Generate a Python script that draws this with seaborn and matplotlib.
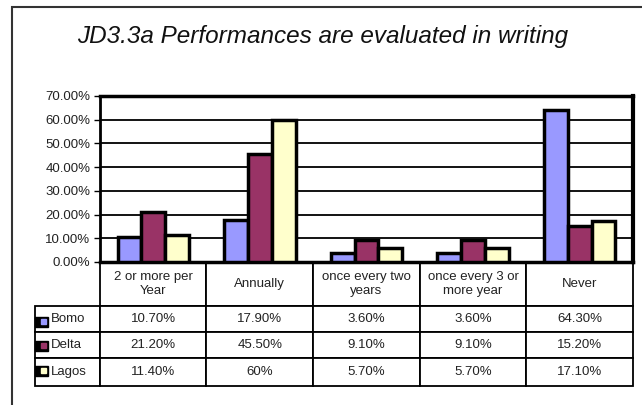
import matplotlib
matplotlib.use('Agg')
import matplotlib.pyplot as plt
import pandas as pd
import seaborn as sns
from matplotlib.patches import Rectangle
from matplotlib.table import Table
from matplotlib.ticker import PercentFormatter

# Data
categories = ['2 or more per\nYear', 'Annually', 'once every two\nyears',
              'once every 3 or\nmore year', 'Never']
series = ['Bomo', 'Delta', 'Lagos']
bomo = [10.7, 17.9, 3.6, 3.6, 64.3]
delta = [21.2, 45.5, 9.1, 9.1, 15.2]
lagos = [11.4, 60.0, 5.7, 5.7, 17.1]
bomo_txt = ['10.70%', '17.90%', '3.60%', '3.60%', '64.30%']
delta_txt = ['21.20%', '45.50%', '9.10%', '9.10%', '15.20%']
lagos_txt = ['11.40%', '60%', '5.70%', '5.70%', '17.10%']
colors = ['#9999FF', '#993366', '#FFFFCC']

df = pd.DataFrame({
    'category': categories * 3,
    'series': [s for s in series for _ in categories],
    'value': bomo + delta + lagos,
})

sns.set_theme(style='white')
plt.rcParams['font.family'] = ['Liberation Sans', 'DejaVu Sans']

W, H = 642, 405
fig = plt.figure(figsize=(W / 100, H / 100), dpi=100)
ax = fig.add_axes([100 / W, 1 - 262 / H, 533 / W, 166 / H])

sns.barplot(data=df, x='category', y='value', hue='series', order=categories,
            hue_order=series, palette=colors, saturation=1, width=0.67,
            edgecolor='black', linewidth=2.5, legend=False, ax=ax, zorder=3)

ax.set_ylim(0, 70)
ax.set_xlim(-0.5, 4.5)
ax.set_yticks(range(0, 71, 10))
ax.yaxis.set_major_formatter(PercentFormatter(100, decimals=2))
ax.grid(axis='y', color='black', linewidth=1.3, zorder=0)
ax.set_axisbelow(True)
ax.set_xticks([])
ax.set_xlabel('')
ax.set_ylabel('')
ax.tick_params(axis='y', left=True, length=4, width=1, color='black',
               labelsize=9.5, pad=3, labelcolor='#222222')
for side, lw in [('left', 2), ('top', 2.5), ('right', 3), ('bottom', 2.5)]:
    ax.spines[side].set_visible(True)
    ax.spines[side].set_color('black')
    ax.spines[side].set_linewidth(lw)

# data table below the plot
tab = Table(ax, bbox=[-65 / 533, -124 / 166, 598 / 533, 124 / 166])
cw0, cw = 65, 107
heights = [44, 26, 26, 28]
rows_txt = [bomo_txt, delta_txt, lagos_txt]
c = tab.add_cell(0, 0, cw0, heights[0], text='')
c.visible_edges = ''
for j, cat in enumerate(categories):
    tab.add_cell(0, j + 1, cw, heights[0], text=cat, loc='center')
for i, name in enumerate(series):
    c = tab.add_cell(i + 1, 0, cw0, heights[i + 1], text=name, loc='left')
    c.PAD = 0.24
    for j, t in enumerate(rows_txt[i]):
        tab.add_cell(i + 1, j + 1, cw, heights[i + 1], text=t, loc='center')
tab.auto_set_font_size(False)
for cell in tab.get_celld().values():
    cell.set_fontsize(9.5)
    cell.set_linewidth(1.3)
    cell.set_edgecolor('black')
    cell.get_text().set_color('#222222')
    cell.set_clip_on(False)
ax.add_table(tab)

# legend keys in the table's row labels
ys = [322, 346, 371]
for y, col in zip(ys, colors):
    fig.patches.append(Rectangle((35 / W, 1 - (y + 5) / H), 13 / W, 10 / H,
                                 transform=fig.transFigure, color='black'))
    fig.patches.append(Rectangle((41 / W, 1 - (y + 2) / H), 5 / W, 5 / H,
                                 transform=fig.transFigure, color=col))

# outer frame (clipped at right and bottom)
fig.patches.append(Rectangle((12 / W, -0.1), 1.0, 1.1 - 7 / H, fill=False,
                             transform=fig.transFigure, edgecolor='#333333',
                             linewidth=1.5))

fig.text(323 / W, 1 - 36 / H, 'JD3.3a Performances are evaluated in writing',
         ha='center', va='center', fontsize=17.5, style='italic', color='#111111')

fig.savefig('out.png', dpi=100)
